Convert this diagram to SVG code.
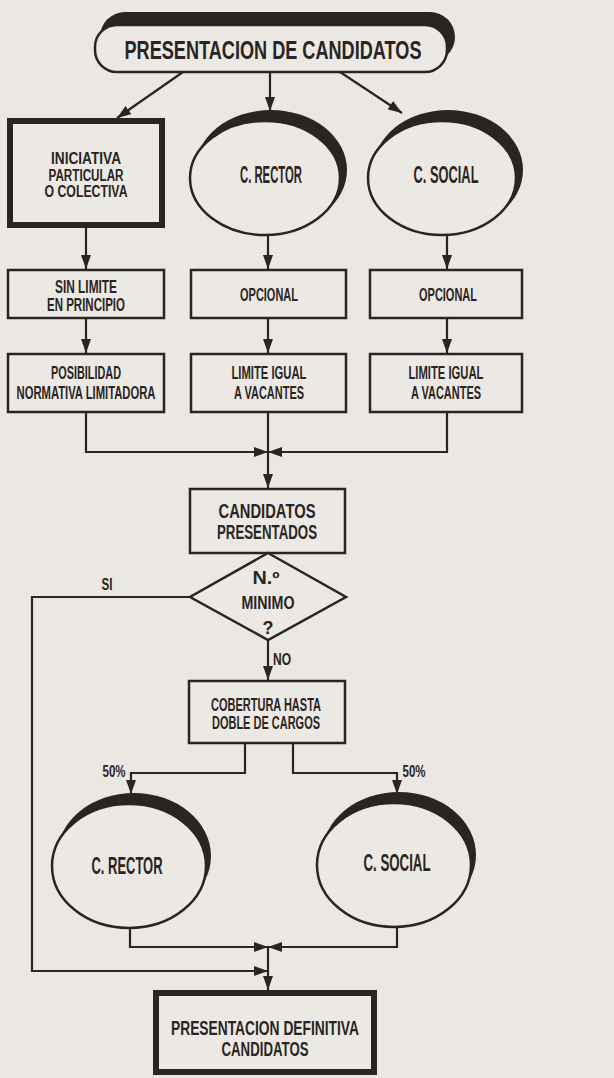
<svg xmlns="http://www.w3.org/2000/svg" width="614" height="1078" viewBox="0 0 614 1078">
<defs>
<style>
.bg{fill:#ebe8e3}
.box{fill:#ece9e4;stroke:#2a2522;stroke-width:2.5}
.thick{stroke-width:6}
.dark{fill:#2a2522}
.t{font-family:"Liberation Sans",Arial,sans-serif;font-weight:bold;fill:#2a2522;text-anchor:middle}
.ln{stroke:#2a2522;stroke-width:2.2;fill:none}
</style>
<marker id="ah" viewBox="0 0 14 10" refX="14" refY="5" markerWidth="14" markerHeight="10" orient="auto" markerUnits="userSpaceOnUse">
<path d="M0,0 L14,5 L0,10 z" fill="#2a2522"/>
</marker>
</defs>
<rect class="bg" x="0" y="0" width="614" height="1078"/>

<g id="connectors">
<line class="ln" x1="183" y1="72" x2="117" y2="118" marker-end="url(#ah)"/>
<line class="ln" x1="270" y1="72" x2="270" y2="111" marker-end="url(#ah)"/>
<line class="ln" x1="340" y1="72" x2="402" y2="113" marker-end="url(#ah)"/>
<line class="ln" x1="86" y1="228" x2="86" y2="269" marker-end="url(#ah)"/>
<line class="ln" x1="86" y1="318" x2="86" y2="353" marker-end="url(#ah)"/>
<line class="ln" x1="268" y1="235" x2="268" y2="269" marker-end="url(#ah)"/>
<line class="ln" x1="268" y1="318" x2="268" y2="353" marker-end="url(#ah)"/>
<line class="ln" x1="447" y1="235" x2="447" y2="269" marker-end="url(#ah)"/>
<line class="ln" x1="447" y1="318" x2="447" y2="353" marker-end="url(#ah)"/>
<path class="ln" d="M86,412 V452 H268" marker-end="url(#ah)"/>
<path class="ln" d="M447,412 V452 H268" marker-end="url(#ah)"/>
<line class="ln" x1="268" y1="412" x2="268" y2="488" marker-end="url(#ah)"/>
<path class="ln" d="M190,597 H32 V971 H268" marker-end="url(#ah)"/>
<line class="ln" x1="268" y1="640" x2="268" y2="680" marker-end="url(#ah)"/>
<path class="ln" d="M245,743 V773 H131 V794" marker-end="url(#ah)"/>
<path class="ln" d="M293,743 V773 H397 V794" marker-end="url(#ah)"/>
<path class="ln" d="M130,928 V947 H268" marker-end="url(#ah)"/>
<path class="ln" d="M397,927 V947 H268" marker-end="url(#ah)"/>
<line class="ln" x1="268" y1="947" x2="268" y2="990" marker-end="url(#ah)"/>
</g>

<g id="n-presentacion">
<rect class="dark" x="100" y="12" width="355" height="50" rx="25"/>
<rect class="box" x="95" y="25" width="352" height="47" rx="22" stroke-width="2"/>
<text class="t" x="273" y="59" font-size="25" textLength="297" lengthAdjust="spacingAndGlyphs">PRESENTACION DE CANDIDATOS</text>
</g>

<g id="n-iniciativa">
<rect class="box thick" x="10" y="121" width="152" height="104"/>
<text class="t" x="86" y="164" font-size="16" textLength="70" lengthAdjust="spacingAndGlyphs">INICIATIVA</text>
<text class="t" x="86" y="180.5" font-size="16" textLength="75" lengthAdjust="spacingAndGlyphs">PARTICULAR</text>
<text class="t" x="86" y="197" font-size="16" textLength="83" lengthAdjust="spacingAndGlyphs">O COLECTIVA</text>
</g>

<g id="n-rector1">
<ellipse class="dark" cx="271" cy="170" rx="76" ry="60"/>
<ellipse class="box" cx="265" cy="178" rx="75" ry="57" stroke-width="2"/>
<text class="t" x="271" y="183" font-size="23" textLength="62" lengthAdjust="spacingAndGlyphs">C. RECTOR</text>
</g>

<g id="n-social1">
<ellipse class="dark" cx="448" cy="170" rx="75" ry="60"/>
<ellipse class="box" cx="442" cy="178" rx="74" ry="57" stroke-width="2"/>
<text class="t" x="446" y="183" font-size="23" textLength="65" lengthAdjust="spacingAndGlyphs">C. SOCIAL</text>
</g>

<g id="n-sinlimite">
<rect class="box" x="8" y="270" width="156" height="48"/>
<text class="t" x="86" y="293" font-size="18" textLength="62" lengthAdjust="spacingAndGlyphs">SIN LIMITE</text>
<text class="t" x="86" y="311" font-size="18" textLength="78" lengthAdjust="spacingAndGlyphs">EN PRINCIPIO</text>
</g>

<g id="n-posibilidad">
<rect class="box" x="8" y="354" width="156" height="58"/>
<text class="t" x="86" y="379" font-size="18" textLength="70" lengthAdjust="spacingAndGlyphs">POSIBILIDAD</text>
<text class="t" x="86" y="399" font-size="18" textLength="139" lengthAdjust="spacingAndGlyphs">NORMATIVA LIMITADORA</text>
</g>

<g id="n-opcional1">
<rect class="box" x="191" y="270" width="155" height="48"/>
<text class="t" x="269" y="301" font-size="18" textLength="58" lengthAdjust="spacingAndGlyphs">OPCIONAL</text>
</g>

<g id="n-limite1">
<rect class="box" x="191" y="354" width="155" height="58"/>
<text class="t" x="269" y="379" font-size="18" textLength="75" lengthAdjust="spacingAndGlyphs">LIMITE IGUAL</text>
<text class="t" x="269" y="399" font-size="18" textLength="70" lengthAdjust="spacingAndGlyphs">A VACANTES</text>
</g>

<g id="n-opcional2">
<rect class="box" x="370" y="270" width="152" height="48"/>
<text class="t" x="448" y="301" font-size="18" textLength="58" lengthAdjust="spacingAndGlyphs">OPCIONAL</text>
</g>

<g id="n-limite2">
<rect class="box" x="370" y="354" width="152" height="58"/>
<text class="t" x="446" y="379" font-size="18" textLength="75" lengthAdjust="spacingAndGlyphs">LIMITE IGUAL</text>
<text class="t" x="446" y="399" font-size="18" textLength="70" lengthAdjust="spacingAndGlyphs">A VACANTES</text>
</g>

<g id="n-candidatos">
<rect class="box" x="190" y="489" width="155" height="64"/>
<text class="t" x="267" y="518" font-size="21" textLength="97" lengthAdjust="spacingAndGlyphs">CANDIDATOS</text>
<text class="t" x="267" y="539" font-size="21" textLength="100" lengthAdjust="spacingAndGlyphs">PRESENTADOS</text>
</g>

<g id="n-minimo">
<polygon class="box" points="268,553 346,597 268,640 190,597"/>
<text class="t" x="266" y="584" font-size="18" textLength="27" lengthAdjust="spacingAndGlyphs">N.º</text>
<text class="t" x="268" y="609" font-size="18" textLength="53" lengthAdjust="spacingAndGlyphs">MINIMO</text>
<text class="t" x="268" y="634" font-size="18">?</text>
</g>

<g id="labels">
<text class="t" x="107" y="590" font-size="16" textLength="11" lengthAdjust="spacingAndGlyphs">SI</text>
<text class="t" x="282" y="665" font-size="16" textLength="18" lengthAdjust="spacingAndGlyphs">NO</text>
<text class="t" x="114" y="777" font-size="16" textLength="23" lengthAdjust="spacingAndGlyphs">50%</text>
<text class="t" x="414" y="777" font-size="16" textLength="23" lengthAdjust="spacingAndGlyphs">50%</text>
</g>

<g id="n-cobertura">
<rect class="box" x="189" y="681" width="156" height="62"/>
<text class="t" x="266" y="711" font-size="18" textLength="110" lengthAdjust="spacingAndGlyphs">COBERTURA HASTA</text>
<text class="t" x="266" y="729" font-size="18" textLength="108" lengthAdjust="spacingAndGlyphs">DOBLE DE CARGOS</text>
</g>

<g id="n-rector2">
<ellipse class="dark" cx="134" cy="856" rx="77" ry="63"/>
<ellipse class="box" cx="129" cy="866" rx="77" ry="62" stroke-width="2"/>
<text class="t" x="127" y="874" font-size="23" textLength="71" lengthAdjust="spacingAndGlyphs">C. RECTOR</text>
</g>

<g id="n-social2">
<ellipse class="dark" cx="399" cy="855" rx="77" ry="63"/>
<ellipse class="box" cx="394" cy="865" rx="77" ry="62" stroke-width="2"/>
<text class="t" x="397" y="871" font-size="23" textLength="67" lengthAdjust="spacingAndGlyphs">C. SOCIAL</text>
</g>

<g id="n-definitiva">
<rect class="box thick" x="156" y="993" width="218" height="79"/>
<text class="t" x="265" y="1035" font-size="21" textLength="188" lengthAdjust="spacingAndGlyphs">PRESENTACION DEFINITIVA</text>
<text class="t" x="265" y="1056" font-size="21" textLength="87" lengthAdjust="spacingAndGlyphs">CANDIDATOS</text>
</g>
</svg>
